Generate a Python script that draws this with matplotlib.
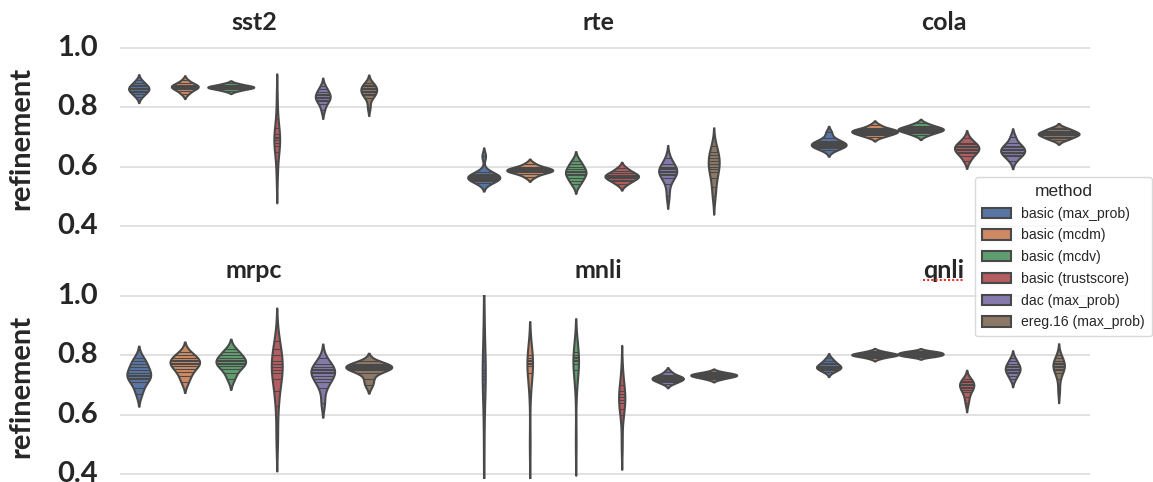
import pandas as pd
import matplotlib.pyplot as plt
import seaborn as sns
from matplotlib.lines import Line2D

# methods (hue) and tasks, first row then second row
methods = ['basic (max_prob)', 'basic (mcdm)', 'basic (mcdv)',
           'basic (trustscore)', 'dac (max_prob)', 'ereg.16 (max_prob)']
top_tasks = ['sst2', 'rte', 'cola']
bottom_tasks = ['mrpc', 'mnli', 'qnli']
yticks = [0.4, 0.6, 0.8, 1.0]
ytick_labels = ['0.4', '0.6', '0.8', '1.0']

# refinement scores per run, one list per method
sst2 = [
    [0.835, 0.845, 0.85, 0.855, 0.86, 0.862, 0.865, 0.87, 0.875, 0.88, 0.89],
    [0.845, 0.855, 0.86, 0.865, 0.868, 0.87, 0.872, 0.876, 0.88, 0.89],
    [0.855, 0.86, 0.863, 0.865, 0.867, 0.868, 0.87, 0.872, 0.875, 0.88],
    [0.56, 0.62, 0.65, 0.67, 0.68, 0.69, 0.695, 0.70, 0.71, 0.73, 0.76, 0.83],
    [0.79, 0.81, 0.82, 0.825, 0.83, 0.835, 0.84, 0.845, 0.85, 0.86, 0.87],
    [0.80, 0.83, 0.84, 0.845, 0.85, 0.855, 0.86, 0.865, 0.87, 0.875, 0.88],
]
rte = [
    [0.545, 0.552, 0.556, 0.559, 0.561, 0.563, 0.565, 0.567, 0.57, 0.575, 0.582, 0.635],
    [0.565, 0.575, 0.58, 0.583, 0.585, 0.588, 0.59, 0.592, 0.595, 0.60, 0.61],
    [0.54, 0.55, 0.56, 0.57, 0.575, 0.58, 0.585, 0.59, 0.60, 0.61, 0.62],
    [0.54, 0.55, 0.555, 0.56, 0.565, 0.567, 0.57, 0.573, 0.578, 0.585, 0.595],
    [0.50, 0.54, 0.56, 0.57, 0.575, 0.58, 0.585, 0.59, 0.595, 0.60, 0.61, 0.63],
    [0.50, 0.53, 0.56, 0.58, 0.59, 0.60, 0.61, 0.62, 0.63, 0.64, 0.65, 0.67],
]
cola = [
    [0.655, 0.662, 0.667, 0.67, 0.672, 0.675, 0.678, 0.682, 0.687, 0.695, 0.715],
    [0.70, 0.705, 0.71, 0.713, 0.716, 0.718, 0.72, 0.723, 0.726, 0.73, 0.74],
    [0.705, 0.712, 0.717, 0.72, 0.723, 0.725, 0.727, 0.73, 0.733, 0.738, 0.745],
    [0.62, 0.635, 0.645, 0.65, 0.655, 0.66, 0.665, 0.67, 0.675, 0.68, 0.695],
    [0.62, 0.635, 0.64, 0.645, 0.65, 0.655, 0.66, 0.665, 0.67, 0.68, 0.70],
    [0.69, 0.695, 0.70, 0.705, 0.708, 0.71, 0.712, 0.715, 0.72, 0.725, 0.73],
]
mrpc = [
    [0.67, 0.69, 0.71, 0.72, 0.725, 0.73, 0.735, 0.74, 0.75, 0.76, 0.77, 0.78, 0.79],
    [0.71, 0.73, 0.745, 0.755, 0.765, 0.77, 0.775, 0.78, 0.785, 0.79, 0.80, 0.81],
    [0.72, 0.74, 0.755, 0.765, 0.77, 0.775, 0.78, 0.785, 0.79, 0.80, 0.81, 0.82],
    [0.52, 0.63, 0.68, 0.72, 0.74, 0.75, 0.76, 0.77, 0.78, 0.80, 0.82, 0.85],
    [0.64, 0.69, 0.71, 0.72, 0.73, 0.74, 0.745, 0.75, 0.755, 0.76, 0.77, 0.79],
    [0.70, 0.72, 0.74, 0.75, 0.755, 0.758, 0.76, 0.762, 0.764, 0.767, 0.77, 0.78],
]
mnli = [
    [0.45, 0.60, 0.70, 0.72, 0.73, 0.74, 0.75, 0.78, 0.85, 0.95],
    [0.50, 0.68, 0.74, 0.765, 0.77, 0.775, 0.78, 0.785, 0.79, 0.80],
    [0.51, 0.69, 0.75, 0.77, 0.78, 0.785, 0.79, 0.795, 0.80, 0.81],
    [0.50, 0.60, 0.62, 0.64, 0.65, 0.66, 0.67, 0.68, 0.70, 0.75],
    [0.705, 0.71, 0.715, 0.718, 0.72, 0.722, 0.725, 0.728, 0.73, 0.735, 0.745],
    [0.72, 0.725, 0.728, 0.73, 0.732, 0.734, 0.736, 0.738, 0.74, 0.745],
]
qnli = [
    [0.745, 0.75, 0.755, 0.758, 0.76, 0.762, 0.765, 0.77, 0.775, 0.78, 0.79],
    [0.79, 0.795, 0.798, 0.80, 0.801, 0.802, 0.804, 0.806, 0.808, 0.81, 0.815],
    [0.795, 0.798, 0.80, 0.802, 0.804, 0.806, 0.808, 0.81, 0.812, 0.815],
    [0.64, 0.66, 0.675, 0.685, 0.69, 0.695, 0.70, 0.705, 0.71, 0.715, 0.72],
    [0.72, 0.73, 0.74, 0.745, 0.75, 0.755, 0.76, 0.765, 0.77, 0.78, 0.79],
    [0.68, 0.72, 0.74, 0.75, 0.755, 0.76, 0.765, 0.77, 0.775, 0.78, 0.79, 0.80],
]


def to_frame(task, per_method):
    rows = []
    for method, vals in zip(methods, per_method):
        for v in vals:
            rows.append({'task': task, 'method': method, 'refinement': v})
    return pd.DataFrame(rows)


sns.set_theme(style='whitegrid')
plt.rcParams['font.family'] = ['Liberation Sans', 'DejaVu Sans']
big_font = dict(family='Lato', fontweight='bold')

fig = plt.figure(figsize=(11.53, 4.82), dpi=100)
ax_top = fig.add_axes([0.104, 0.524, 0.841, 0.378])
ax_bot = fig.add_axes([0.104, 0.009, 0.841, 0.378])

rows = [(ax_top, top_tasks, [sst2, rte, cola]),
        (ax_bot, bottom_tasks, [mrpc, mnli, qnli])]

titles = {}
handles, labels = None, None
for ax, tasks, scores in rows:
    # one call per task, widths scaled across the methods of that task
    for task, per_method in zip(tasks, scores):
        sns.violinplot(data=to_frame(task, per_method), x='task', y='refinement',
                       hue='method', order=tasks, hue_order=methods, inner='stick',
                       common_norm=True, palette='deep', linewidth=1.5, ax=ax)
        if handles is None:
            handles, labels = ax.get_legend_handles_labels()
        if ax.legend_ is not None:
            ax.legend_.remove()
    ax.set_xlim(-0.388, 2.423)
    ax.set_ylim(0.388, 1.002)
    ax.set_xticks([])
    ax.set_xlabel('')
    ax.set_yticks(yticks)
    ax.set_yticklabels(ytick_labels, fontsize=21, va='center', **big_font)
    ax.tick_params(axis='y', length=0, pad=16)
    ax.set_ylabel('refinement', fontsize=21, **big_font)
    ax.yaxis.set_label_coords(-0.088, 0.5)
    ax.grid(True, axis='y', color='#dedede', linewidth=1.3)
    ax.grid(False, axis='x')
    for s in ax.spines.values():
        s.set_visible(False)
    for i, task in enumerate(tasks):
        titles[task] = ax.text(i, 1.135, task, fontsize=18, ha='center', va='center',
                               transform=ax.get_xaxis_transform(), **big_font)

leg = fig.legend(handles, labels, title='method', loc='upper right',
                 bbox_to_anchor=(0.999, 1 - 177 / 482), borderaxespad=0,
                 fontsize=10.1, title_fontsize=12.5, labelspacing=0.55,
                 handlelength=2.1, handleheight=0.75, handletextpad=0.7,
                 borderpad=0.5, frameon=True, fancybox=True)
leg.get_frame().set_edgecolor('#d0d0d0')

# red spell-check squiggle under the qnli title, as in the screenshot
fig.canvas.draw()
bb = titles['qnli'].get_window_extent().transformed(fig.transFigure.inverted())
fig.add_artist(Line2D([bb.x0, bb.x1], [bb.y0 + 0.004, bb.y0 + 0.004],
                      transform=fig.transFigure, color='#e8302a',
                      linestyle=(0, (1, 1)), linewidth=1.5))

fig.savefig('out.png', dpi=100)
